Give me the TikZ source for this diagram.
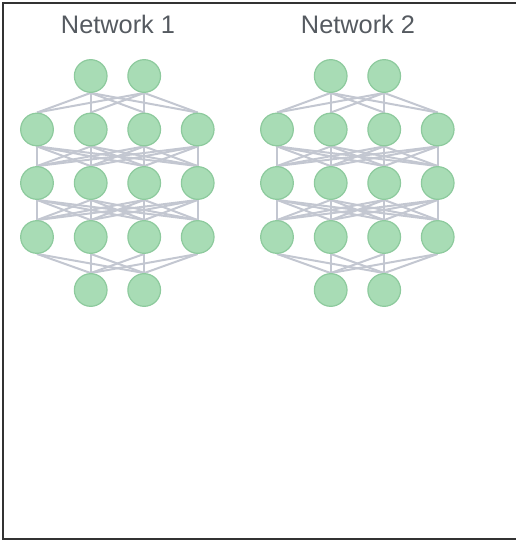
\documentclass[tikz,border=0pt]{standalone}
\usepackage{fontspec}
\setmainfont{Liberation Sans}
\usetikzlibrary{backgrounds}
\definecolor{nodefill}{HTML}{A8DCB5}
\definecolor{nodeedge}{HTML}{8DCA9D}
\definecolor{linkgray}{HTML}{C3C7D1}
\definecolor{titlegray}{HTML}{555A60}
\tikzset{
    NN/.style ={circle, minimum size = 24.5pt, inner sep = 0pt, draw = nodeedge, fill = nodefill, line width = 0.9pt},
    LK/.style ={draw = linkgray, line width = 1.5pt},
    TT/.style ={text = titlegray, font = \fontsize{19}{22}\selectfont},
    FR/.style ={draw = black!80, line width = 1.1pt}
}
\begin{document}
\begin{tikzpicture}[x = 0.75pt, y = -0.75pt]
    \useasboundingbox (0,0) rectangle (516,541);
    \draw[FR] (3,3) rectangle (518,539);
    \foreach \net/\dx in {1/0, 2/240}{
        \node[TT] (t\net) at (118+\dx, 24) {Network \net};
        % input and output layers
        \foreach \i/\x in {1/90.7, 2/144.2}{
            \node[NN] (n\net-0-\i) at (\x+\dx, 76) {};
            \node[NN] (n\net-4-\i) at (\x+\dx, 290) {};
        }
        % hidden layers
        \foreach \l/\y in {1/129.5, 2/183, 3/237}
            \foreach \i/\x in {1/37, 2/90.7, 3/144.2, 4/197.7}
                \node[NN] (n\net-\l-\i) at (\x+\dx, \y) {};
        \begin{pgfonlayer}{background}
            \foreach \l/\m/\p/\q in {0/1/2/4, 1/2/4/4, 2/3/4/4, 3/4/4/2}
                \foreach \i in {1,...,\p}
                    \foreach \j in {1,...,\q}
                        \draw[LK] (n\net-\l-\i.south) -- (n\net-\m-\j.north);
        \end{pgfonlayer}
    }
\end{tikzpicture}
\end{document}
